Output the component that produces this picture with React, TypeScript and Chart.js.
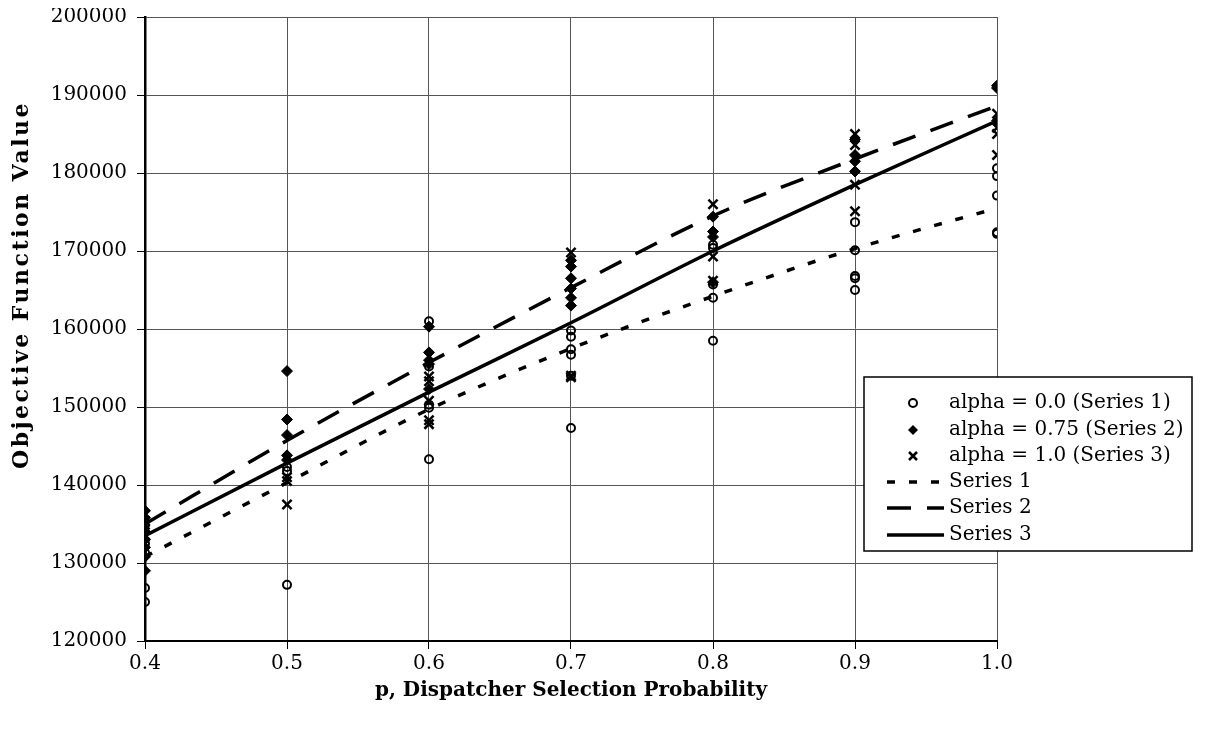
import { useEffect, useRef } from "react";
import { Chart, registerables } from "chart.js";

Chart.register(...registerables);

// ---- data ----
const pValues = [0.4, 0.5, 0.6, 0.7, 0.8, 0.9, 1.0];
const xTickLabels = ["0.4", "0.5", "0.6", "0.7", "0.8", "0.9", "1.0"];
const yTickValues = [120000, 130000, 140000, 150000, 160000, 170000, 180000, 190000, 200000];

// observed objective values at each p (one inner list per p)
const alpha00Values = [
  [132500, 131300, 126800, 125000],
  [142300, 141800, 127200],
  [161000, 155200, 150300, 149900, 143300],
  [159800, 159000, 157400, 156700, 154000, 147300],
  [170800, 170400, 165700, 164000, 158500],
  [173700, 170100, 166800, 166500, 165000],
  [180600, 179600, 177100, 172400, 172200],
];
const alpha075Values = [
  [136700, 135800, 134000, 133000, 132000, 130800, 129000],
  [154600, 148400, 146400, 143800, 143200],
  [160300, 157000, 156000, 155500, 152300],
  [168800, 168000, 166500, 165200, 164000, 163000],
  [174400, 172500, 171800, 166000],
  [184300, 182300, 181500, 180200],
  [191200, 190900, 186700],
];
const alpha10Values = [
  [135400, 134900, 134300, 133600],
  [141000, 140500, 137500],
  [153900, 153300, 150800, 148300, 147800],
  [169800, 154000, 153800],
  [176000, 169300, 166200],
  [185000, 183600, 178500, 175100],
  [187600, 185800, 185000, 182300],
];

// trend lines read at each p
const series1Trend = [130800, 140300, 149700, 157500, 164200, 170300, 175500];
const series2Trend = [135000, 145700, 155700, 165300, 174500, 181800, 188600];
const series3Trend = [133500, 142800, 151900, 160800, 170000, 178500, 186700];

const legendLabels = [
  "alpha = 0.0 (Series 1)",
  "alpha = 0.75 (Series 2)",
  "alpha = 1.0 (Series 3)",
  "Series 1",
  "Series 2",
  "Series 3",
];
const xTitle = "p, Dispatcher Selection Probability";
const yTitle = "Objective Function Value";

const FONT = "'DejaVu Serif', serif";

const toPoints = (vals: number[][]) =>
  pValues.flatMap((p, i) => vals[i].map((v) => ({ x: p, y: v })));
const toLine = (vals: number[]) => pValues.map((p, i) => ({ x: p, y: vals[i] }));

const dotted = [8, 14];
const dashed = [24, 16];

const overlayPlugin = {
  id: "overlay",
  afterDraw(chart: any) {
    const ctx = chart.ctx as CanvasRenderingContext2D;
    ctx.save();
    // y axis title
    ctx.translate(14, 277);
    ctx.rotate(-Math.PI / 2);
    ctx.fillStyle = "black";
    ctx.font = `bold 22px ${FONT}`;
    (ctx as any).letterSpacing = "2.5px";
    ctx.textAlign = "center";
    ctx.textBaseline = "middle";
    ctx.fillText(yTitle, 0, 0);
    ctx.restore();

    // legend
    ctx.save();
    const x0 = 856, y0 = 369, w = 328, h = 174;
    ctx.fillStyle = "white";
    ctx.fillRect(x0, y0, w, h);
    ctx.strokeStyle = "black";
    ctx.lineWidth = 1.5;
    ctx.strokeRect(x0, y0, w, h);
    const rows = [395, 422, 448, 474, 500, 527];
    const mx = 905;
    const tx = 941;
    ctx.font = `20px ${FONT}`;
    ctx.textBaseline = "middle";
    ctx.textAlign = "left";
    ctx.fillStyle = "black";
    legendLabels.forEach((t, i) => ctx.fillText(t, tx, rows[i]));
    // markers
    ctx.strokeStyle = "black";
    ctx.lineWidth = 2;
    ctx.beginPath();
    ctx.arc(mx, rows[0], 4, 0, Math.PI * 2);
    ctx.stroke();
    ctx.beginPath();
    ctx.moveTo(mx - 5, rows[1]);
    ctx.lineTo(mx, rows[1] - 5);
    ctx.lineTo(mx + 5, rows[1]);
    ctx.lineTo(mx, rows[1] + 5);
    ctx.closePath();
    ctx.fill();
    ctx.lineWidth = 2.5;
    ctx.beginPath();
    ctx.moveTo(mx - 4, rows[2] - 4);
    ctx.lineTo(mx + 4, rows[2] + 4);
    ctx.moveTo(mx + 4, rows[2] - 4);
    ctx.lineTo(mx - 4, rows[2] + 4);
    ctx.stroke();
    // line samples
    const lines: [number[], number][] = [[dotted, 3.5], [dashed, 3.5], [[], 3.5]];
    lines.forEach(([dash, lw], i) => {
      ctx.setLineDash(dash);
      ctx.lineWidth = lw;
      ctx.beginPath();
      ctx.moveTo(879, rows[3 + i]);
      ctx.lineTo(936, rows[3 + i]);
      ctx.stroke();
    });
    ctx.restore();
  },
};

export default function App() {
  const ref = useRef<HTMLCanvasElement | null>(null);
  useEffect(() => {
    if (!ref.current) return;
    const chart = new Chart(ref.current, {
      type: "scatter",
      data: {
        datasets: [
          {
            label: legendLabels[0],
            data: toPoints(alpha00Values),
            pointStyle: "circle",
            pointRadius: 4,
            pointBorderWidth: 2,
            pointBorderColor: "black",
            pointBackgroundColor: "rgba(0,0,0,0)",
            showLine: false,
          },
          {
            label: legendLabels[1],
            data: toPoints(alpha075Values),
            pointStyle: "rectRot",
            pointRadius: 5.5,
            pointBorderWidth: 1,
            pointBorderColor: "black",
            pointBackgroundColor: "black",
            showLine: false,
          },
          {
            label: legendLabels[2],
            data: toPoints(alpha10Values),
            pointStyle: "crossRot",
            pointRadius: 6.5,
            pointBorderWidth: 2.5,
            pointBorderColor: "black",
            pointBackgroundColor: "black",
            showLine: false,
          },
          {
            label: legendLabels[3],
            data: toLine(series1Trend),
            showLine: true,
            pointRadius: 0,
            borderColor: "black",
            borderWidth: 3.5,
            borderDash: dotted,
            tension: 0.4,
            cubicInterpolationMode: "monotone",
          },
          {
            label: legendLabels[4],
            data: toLine(series2Trend),
            showLine: true,
            pointRadius: 0,
            borderColor: "black",
            borderWidth: 3.5,
            borderDash: dashed,
            tension: 0.4,
            cubicInterpolationMode: "monotone",
          },
          {
            label: legendLabels[5],
            data: toLine(series3Trend),
            showLine: true,
            pointRadius: 0,
            borderColor: "black",
            borderWidth: 3.5,
            tension: 0.4,
            cubicInterpolationMode: "monotone",
          },
        ],
      } as any,
      options: {
        animation: false,
        responsive: false,
        maintainAspectRatio: false,
        layout: { padding: { top: 5, right: 200, left: 0, bottom: 0 } },
        plugins: { legend: { display: false }, tooltip: { enabled: false } },
        scales: {
          x: {
            type: "linear",
            min: 0.4,
            max: 1.0,
            afterBuildTicks: (s: any) => {
              s.ticks = pValues.map((v) => ({ value: v }));
            },
            afterFit: (s: any) => {
              s.height = 80;
              s.paddingLeft = 0;
              s.paddingRight = 0;
            },
            ticks: {
              callback: (v: any) => {
                const i = pValues.findIndex((p) => Math.abs(p - Number(v)) < 1e-6);
                return i >= 0 ? xTickLabels[i] : "";
              },
              color: "black",
              font: { family: FONT, size: 20 },
              padding: 3,
              maxRotation: 0,
            },
            grid: { color: "#555", lineWidth: 1, tickLength: 8, tickColor: "black" },
            border: { color: "black", width: 2 },
            title: {
              display: true,
              text: xTitle,
              color: "black",
              font: { family: FONT, size: 20, weight: "bold" },
              padding: { top: 0, bottom: 18 },
            },
          },
          y: {
            type: "linear",
            min: 120000,
            max: 200000,
            afterBuildTicks: (s: any) => {
              s.ticks = yTickValues.map((v) => ({ value: v }));
            },
            afterFit: (s: any) => {
              s.width = 137;
              s.paddingTop = 0;
              s.paddingBottom = 0;
            },
            ticks: {
              callback: (v: any) => String(v),
              color: "black",
              font: { family: FONT, size: 20 },
              padding: 10,
            },
            grid: { color: "#555", lineWidth: 1, tickLength: 8, tickColor: "black" },
            border: { color: "black", width: 2.5 },
          },
        },
      } as any,
      plugins: [overlayPlugin],
    });
    return () => chart.destroy();
  }, []);
  return (
    <div style={{ width: 1189, height: 713 }}>
      <canvas ref={ref} width={1189} height={713} style={{ display: "block", width: 1189, height: 713 }} />
    </div>
  );
}
